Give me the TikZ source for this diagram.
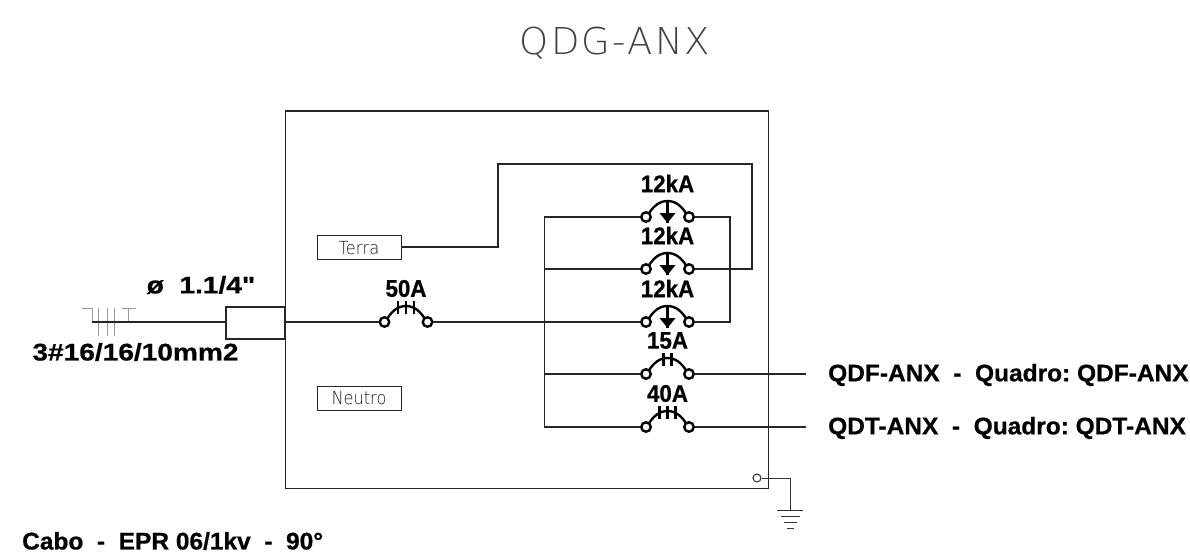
\documentclass[tikz,border=0pt]{standalone}
\usepackage{fontspec}
\setmainfont{Liberation Sans}
\newfontfamily\cadb[FakeStretch=0.93,FakeBold=0.7]{Liberation Sans Bold}
\newfontfamily\cadm[FakeStretch=1.02,FakeBold=0.7]{Liberation Sans Bold}
\newfontfamily\cadw[FakeStretch=1.17,FakeBold=0.7]{Liberation Sans Bold}
\newfontfamily\cadl[FakeStretch=0.9]{DejaVu Sans ExtraLight}
\newfontfamily\cadt[FakeStretch=1.0,LetterSpace=6]{DejaVu Sans ExtraLight}
\tikzset{
  wire/.style={line width=1.2pt,draw=black!85},
  thin wire/.style={line width=1pt,draw=black!80},
  term/.style={circle,draw=black,line width=2.4pt,inner sep=0pt,minimum size=9.5pt,fill=white},
  lbl/.style={inner sep=0pt,font=\cadb\fontsize{24}{24}\selectfont,text=black},
  lblm/.style={lbl,font=\cadm\fontsize{24}{24}\selectfont},
  lblw/.style={lbl,font=\cadw\fontsize{24}{24}\selectfont},
  tag/.style={inner sep=0pt,font=\cadl\fontsize{18}{18}\selectfont,text=black!90},
  tagbox/.style={draw=black!85,line width=1pt,minimum width=84pt,minimum height=24pt,inner sep=0pt},
  tick/.style={line width=2.4pt,draw=black},
  cablemark/.style={line width=1pt,draw=black!40}
}
% name, centre x, y, label
\newcommand{\brkbase}[4]{%
  \coordinate (#1t) at (#2,#3-16);
  \draw[tick] (#2-19,#3-3) .. controls (#2-14,#3-11) and (#2-8,#3-16) .. (#1t)
     .. controls (#2+8,#3-16) and (#2+14,#3-11) .. (#2+19,#3-3);
  \node[term] (#1l) at (#2-21.5,#3) {};
  \node[term] (#1r) at (#2+21.5,#3) {};
  \node[lbl] (#1n) at (#2,#3-33.5) {#4};
}
\newcommand{\brkarrow}[4]{\brkbase{#1}{#2}{#3}{#4}
  \coordinate (#1a) at (#2,#3+6);
  \draw[tick] (#1t) -- (#1a);
  \fill[black] (#2-8,#3-4) -- (#2+8,#3-4) -- (#1a) -- cycle;}
\newcommand{\brktwo}[4]{\brkbase{#1}{#2}{#3}{#4}
  \foreach \dx in {-4,4} \draw[tick] (#2+\dx,#3-21) -- (#2+\dx,#3-8);}
\newcommand{\brkthree}[4]{\brkbase{#1}{#2}{#3}{#4}
  \foreach \dx in {-8,0,8} \draw[tick] (#2+\dx,#3-21) -- (#2+\dx,#3-8);}
\begin{document}
\begin{tikzpicture}[x=1pt,y=-1pt]
\useasboundingbox (0,0) rectangle (1190,559);
\node[inner sep=0pt,font=\cadt\fontsize{37}{37}\selectfont,text=black!75] (title) at (615,43.5) {QDG-ANX};
\node[draw=black!85,line width=1.1pt,minimum width=483pt,minimum height=377pt,inner sep=0pt,anchor=north west] (panel) at (285,110.5) {};

\node[tagbox] (terra) at (359,247) {};
\node[tag] (terrat) at (359,248) {Terra};
\node[tagbox] (neutro) at (359,398) {};
\node[tag] (neutrot) at (359,398) {Neutro};

\node[draw=black!85,line width=1.2pt,minimum width=59pt,minimum height=32pt,inner sep=0pt] (duct) at (255.5,323) {};

\coordinate (cs) at (92,322);
\draw[cablemark] (82,308) -- (92,308) -- (cs);
\foreach \x in {98,107,114} \draw[cablemark] (\x,308) -- (\x,336);
\draw[cablemark] (122,308) -- (136,308);
\draw[cablemark] (128,308) -- (128,322);
\draw[wire] (cs) -- (duct.west |- cs);
\node[lblw] (dia) at (201,285) {ø\ \ 1.1/4"};
\node[lblw] (cab) at (135.5,352) {3\#16/16/10mm2};

\coordinate (lt) at (544.5,217);
\coordinate (lb) at (544.5,427);
\coordinate (rt) at (730,217);
\coordinate (rb) at (730,322);
\coordinate (t1) at (498,247);
\coordinate (t2) at (498,164);
\coordinate (t3) at (752,164);
\coordinate (t4) at (752,269);
\coordinate (qe1) at (806,374);
\coordinate (qe2) at (806,427);

\brkthree{m}{406}{322}{50A}
\brkarrow{a}{667.5}{217}{12kA}
\brkarrow{b}{667.5}{269}{12kA}
\brkarrow{c}{667.5}{322}{12kA}
\brktwo{d}{667.5}{374}{15A}
\brkthree{e}{667.5}{427}{40A}

\draw[wire] (duct.east |- cs) -- (ml);
\draw[wire] (mr) -- (cl);
\draw[wire] (al) -- (lt) -- (lb) -- (el);
\draw[wire] (lt |- bl) -- (bl);
\draw[wire] (lt |- dl) -- (dl);
\draw[wire] (ar) -- (rt) -- (rb) -- (cr);
\draw[wire] (terra.east) -- (t1) -- (t2) -- (t3) -- (t4) -- (br);

\node[lblm,anchor=west] (qdf) at (828,375) {QDF-ANX\ \ -\ \ Quadro:\ QDF-ANX};
\node[lblm,anchor=west] (qdt) at (828,428) {QDT-ANX\ \ -\ \ Quadro:\ QDT-ANX};
\draw[wire] (dr) -- (qe1);
\draw[wire] (er) -- (qe2);

\node[circle,draw=black!85,line width=1pt,minimum size=8pt,inner sep=0pt] (gnd) at (757,478) {};
\coordinate (g1) at (790,478);
\coordinate (g2) at (790,510);
\draw[thin wire] (gnd) -- (g1) -- (g2);
\draw[thin wire] (777,510) -- (803,510);
\draw[thin wire] (781,516) -- (800,516);
\draw[thin wire] (784,522) -- (797,522);
\draw[thin wire] (787,528) -- (794,528);

\node[lblm,anchor=west] (cabo) at (22,541) {Cabo\ \ -\ \ EPR\ 06/1kv\ \ -\ \ 90°};
\end{tikzpicture}
\end{document}
